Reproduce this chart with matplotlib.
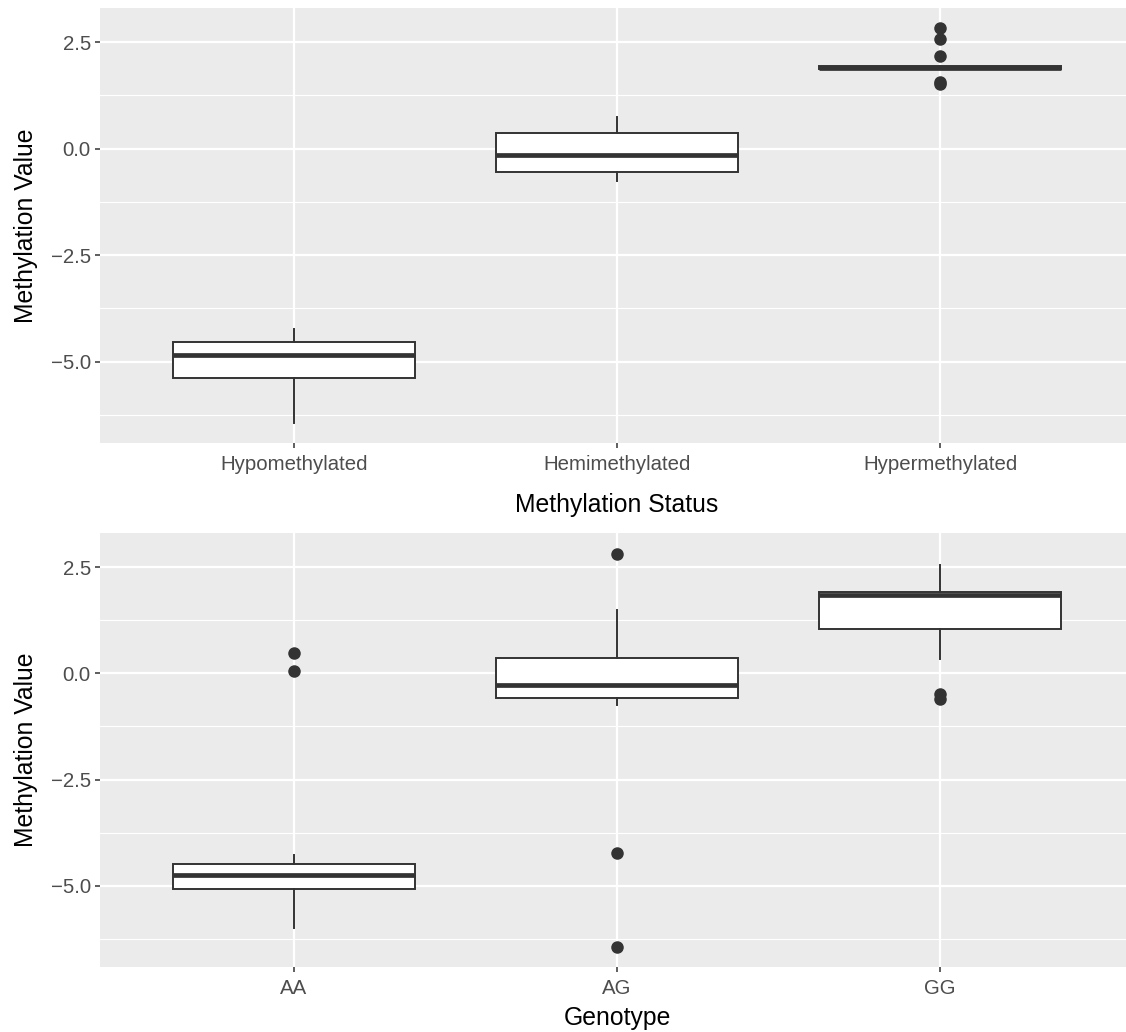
import matplotlib
matplotlib.use("Agg")
import matplotlib.pyplot as plt
from matplotlib.ticker import MultipleLocator

plt.rcParams['font.family'] = ['Liberation Sans', 'DejaVu Sans']

# values
status_labels = ["Hypomethylated", "Hemimethylated", "Hypermethylated"]
status_whislo = [-6.43, -0.75, 1.89]
status_q1     = [-5.38, -0.55, 1.87]
status_med    = [-4.85, -0.16, 1.90]
status_q3     = [-4.54, 0.36, 1.93]
status_whishi = [-4.24, 0.74, 1.91]
status_fliers = [[], [], [2.83, 2.58, 2.18, 1.56, 1.52]]

geno_labels = ["AA", "AG", "GG"]
geno_whislo = [-5.99, -0.75, 0.35]
geno_q1     = [-5.09, -0.57, 1.05]
geno_med    = [-4.76, -0.28, 1.85]
geno_q3     = [-4.48, 0.37, 1.92]
geno_whishi = [-4.29, 1.50, 2.56]
geno_fliers = [[0.48, 0.05], [2.82, -4.22, -6.44], [-0.48, -0.61]]

W, H = 1126, 1032
INK = "#333333"


def make_stats(labels, lo, q1, med, q3, hi, fliers):
    stats = []
    for k in range(len(labels)):
        stats.append(dict(label=labels[k], whislo=lo[k], q1=q1[k], med=med[k],
                          q3=q3[k], whishi=hi[k], fliers=fliers[k]))
    return stats


def panel(fig, top, bottom, stats, xlabel, xpad):
    left, right = 100, 1134
    ax = fig.add_axes([left / W, (H - bottom) / H, (right - left) / W,
                       (bottom - top) / H])
    ax.set_facecolor("#EBEBEB")
    ax.bxp(stats, positions=[1, 2, 3], widths=0.75, showcaps=False,
           patch_artist=True,
           boxprops=dict(facecolor="white", edgecolor=INK, linewidth=1.4),
           whiskerprops=dict(color=INK, linewidth=1.4),
           medianprops=dict(color=INK, linewidth=3.4, solid_capstyle="butt"),
           flierprops=dict(marker="o", markerfacecolor=INK,
                           markeredgecolor=INK, markersize=8))
    ax.set_xlim(0.4, 3.6)
    ax.set_ylim(-6.91, 3.30)
    ax.yaxis.set_major_locator(MultipleLocator(2.5))
    ax.yaxis.set_minor_locator(MultipleLocator(1.25))
    ax.set_yticks([2.5, 0.0, -2.5, -5.0])
    ax.set_yticklabels(["2.5", "0.0", "\u22122.5", "\u22125.0"])
    ax.set_axisbelow(True)
    ax.grid(which="major", color="white", linewidth=1.6)
    ax.grid(which="minor", axis="y", color="white", linewidth=0.8)
    for s in ax.spines.values():
        s.set_visible(False)
    ax.tick_params(which="major", length=3.6, width=1.1, color=INK,
                   labelsize=14.7, labelcolor="#4D4D4D", pad=3)
    ax.tick_params(axis="x", which="major", pad=5)
    ax.tick_params(which="minor", length=0)
    ax.tick_params(axis="x", which="minor", bottom=False)
    ax.set_xlabel(xlabel, fontsize=17.8, labelpad=xpad)
    ax.set_ylabel("Methylation Value", fontsize=17.8, labelpad=9)
    return ax


fig = plt.figure(figsize=(W / 100, H / 100), dpi=100)

panel(fig, 8, 443,
      make_stats(status_labels, status_whislo, status_q1, status_med,
                 status_q3, status_whishi, status_fliers),
      "Methylation Status", 14)
panel(fig, 533.3, 966.7,
      make_stats(geno_labels, geno_whislo, geno_q1, geno_med,
                 geno_q3, geno_whishi, geno_fliers),
      "Genotype", 6)

fig.savefig("out.png", dpi=100)
